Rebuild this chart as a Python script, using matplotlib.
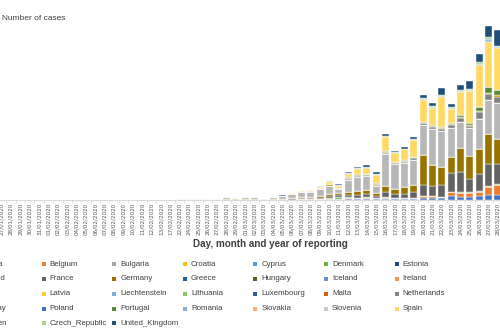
import matplotlib.pyplot as plt
from matplotlib.patches import Rectangle

# categories: reporting dates (first three fall left of the visible crop)
dates = ['24/01', '25/01', '26/01', '27/01', '28/01', '29/01', '30/01', '31/01',
         '01/02', '02/02', '03/02', '04/02', '05/02', '06/02', '07/02', '08/02',
         '09/02', '10/02', '11/02', '12/02', '13/02', '17/02', '22/02', '24/02',
         '25/02', '26/02', '27/02', '28/02', '29/02'] + \
        ['%02d/03' % d for d in range(1, 29)]
dates = [d + '/2020' for d in dates]
first_case_day = dates.index('22/02/2020')

countries = ['Austria', 'Belgium', 'Bulgaria', 'Croatia', 'Cyprus', 'Denmark',
             'Estonia', 'Finland', 'France', 'Germany', 'Greece', 'Hungary',
             'Iceland', 'Ireland', 'Italy', 'Latvia', 'Liechtenstein',
             'Lithuania', 'Luxembourg', 'Malta', 'Netherlands', 'Norway',
             'Poland', 'Portugal', 'Romania', 'Slovakia', 'Slovenia', 'Spain',
             'Sweden', 'Czech_Republic', 'United_Kingdom']
colours = ['#4472C4', '#ED7D31', '#A5A5A5', '#FFC000', '#5B9BD5', '#70AD47',
           '#264478', '#9E480E', '#636363', '#997300', '#255E91', '#43682B',
           '#698ED0', '#F1975A', '#B7B7B7', '#FFCD33', '#7CAFDD', '#8CC168',
           '#335AA1', '#D26012', '#848484', '#CC9A00', '#3A75C0', '#5A8A39',
           '#8FAADC', '#F4B183', '#C9C9C9', '#FFD966', '#9DC3E6', '#A9D18E',
           '#1F4E79']

# daily cases from 22/02 to 28/03 (35 reporting days)
cases = {
    'Austria':        [0, 0, 0, 0, 0, 0, 0, 0, 0, 0, 10, 20, 20, 30, 40, 50, 60, 80, 100, 120,
                       150, 150, 200, 150, 150, 150, 300, 300, 250, 600, 500, 500, 600, 750, 750],
    'Belgium':        [0, 0, 0, 0, 0, 0, 0, 0, 0, 0, 10, 20, 30, 50, 60, 40, 80, 100, 150, 150,
                       200, 150, 150, 150, 150, 150, 300, 300, 200, 600, 550, 600, 600, 1200, 1500],
    'Denmark':        [0, 0, 0, 0, 0, 0, 0, 0, 0, 0, 0, 0, 10, 10, 20, 50, 100, 250, 150, 100,
                       50, 50, 50, 50, 50, 50, 50, 50, 50, 50, 100, 100, 100, 100, 150],
    'France':         [0, 0, 0, 0, 0, 30, 40, 40, 60, 20, 50, 70, 90, 150, 150, 180, 300, 250, 300, 450,
                       450, 300, 750, 600, 600, 900, 1650, 1500, 1800, 2850, 3000, 1950, 2550, 3300, 3000],
    'Germany':        [0, 0, 30, 40, 40, 50, 70, 70, 70, 30, 70, 70, 120, 150, 150, 220, 300, 300, 450, 600,
                       600, 450, 900, 700, 1050, 1050, 4500, 3150, 2700, 2400, 3600, 3450, 3750, 4500, 3750],
    'Italy':          [150, 150, 120, 120, 150, 300, 220, 300, 300, 80, 300, 370, 600, 750, 750, 1050, 1200, 600, 1800, 2100,
                       2100, 1050, 4800, 3750, 3600, 3750, 4500, 5400, 5400, 4350, 3900, 4200, 4500, 5100, 5400],
    'Netherlands':    [0, 0, 0, 0, 0, 0, 0, 0, 10, 10, 20, 30, 40, 50, 60, 70, 100, 100, 150, 150,
                       150, 150, 200, 150, 150, 200, 200, 250, 250, 350, 600, 350, 1050, 900, 900],
    'Norway':         [0, 0, 0, 0, 0, 0, 0, 0, 10, 10, 20, 30, 40, 50, 60, 150, 200, 100, 250, 150,
                       150, 150, 150, 100, 100, 150, 100, 100, 100, 150, 150, 150, 200, 250, 300],
    'Portugal':       [0, 0, 0, 0, 0, 0, 0, 0, 0, 0, 0, 0, 0, 10, 10, 10, 20, 30, 40, 50,
                       60, 80, 100, 100, 100, 100, 150, 150, 150, 250, 400, 300, 550, 900, 750],
    'Spain':          [0, 0, 0, 0, 0, 0, 0, 0, 0, 0, 10, 20, 50, 80, 150, 150, 300, 300, 450, 750,
                       900, 1200, 2100, 1350, 1650, 2550, 3300, 2550, 4500, 2100, 3450, 4800, 6300, 6750, 6300],
    'Sweden':         [0, 0, 0, 0, 0, 0, 0, 0, 0, 0, 10, 20, 20, 30, 40, 100, 100, 150, 150, 150,
                       100, 100, 100, 50, 50, 50, 150, 150, 150, 150, 150, 150, 200, 350, 150],
    'Czech_Republic': [0, 0, 0, 0, 0, 0, 0, 0, 0, 0, 0, 0, 10, 10, 20, 30, 40, 40, 50, 60,
                       70, 80, 100, 50, 50, 50, 150, 150, 150, 150, 150, 150, 250, 400, 150],
    'United_Kingdom': [0, 0, 0, 0, 0, 0, 0, 10, 10, 10, 20, 30, 40, 50, 50, 60, 80, 100, 150, 150,
                       200, 250, 250, 150, 250, 300, 450, 450, 1050, 450, 750, 1200, 1200, 1650, 2400],
}

fig = plt.figure(figsize=(5, 3.35), dpi=100)
# the reference is a crop: the axes run past the left edge of the picture
ax = fig.add_axes([-0.0622, 0.403, 1.0676, 0.552])

x = range(len(dates))
bottom = [0.0] * len(dates)
for pais, cor in zip(countries, colours):
    serie = [0.0] * len(dates)
    for k, v in enumerate(cases.get(pais, [])):
        serie[first_case_day + k] = v
    ax.bar(x, serie, width=0.76, bottom=bottom, color=cor,
           edgecolor='white', linewidth=0.3)
    bottom = [b + s for b, s in zip(bottom, serie)]

ax.set_xlim(-0.5, len(dates) - 0.5)
ax.set_ylim(0, 27750)
ax.set_xticks(list(x))
ax.set_xticklabels(dates, rotation=90, fontsize=4.1, color='#595959')
ax.set_xticks([i + 0.5 for i in x], minor=True)
ax.tick_params(axis='x', which='major', length=0, pad=2)
ax.tick_params(axis='x', which='minor', length=2, color='#D9D9D9', width=0.6)
ax.tick_params(axis='y', left=False, labelleft=False)
for lado in ['top', 'right', 'left']:
    ax.spines[lado].set_visible(False)
ax.spines['bottom'].set_color('#D9D9D9')
ax.spines['bottom'].set_linewidth(0.8)

fig.text(0.004, 0.946, 'Number of cases', fontsize=6, color='#404040',
         family='Liberation Sans', va='center')
fig.text(0.541, 0.272, 'Day, month and year of reporting', fontsize=7.1,
         color='#404040', family='Liberation Sans', fontweight='bold',
         ha='center', va='center')

# legend, row by row like the original (first column is cut off)
row_y = [264, 278.7, 293.7, 308.5, 323.3]
for i, (pais, cor) in enumerate(zip(countries, colours)):
    lin, col = divmod(i, 7)
    px = -26.9 + col * 70.6
    py = row_y[lin]
    fig.add_artist(Rectangle(((px - 2) / 500, 1 - (py + 2) / 335), 4 / 500, 4 / 335,
                             transform=fig.transFigure, facecolor=cor,
                             edgecolor='none'))
    fig.text((px + 6) / 500, 1 - py / 335, pais, fontsize=5.7, color='#404040',
             family='Liberation Sans', va='center')

plt.savefig('out.png', dpi=100)
